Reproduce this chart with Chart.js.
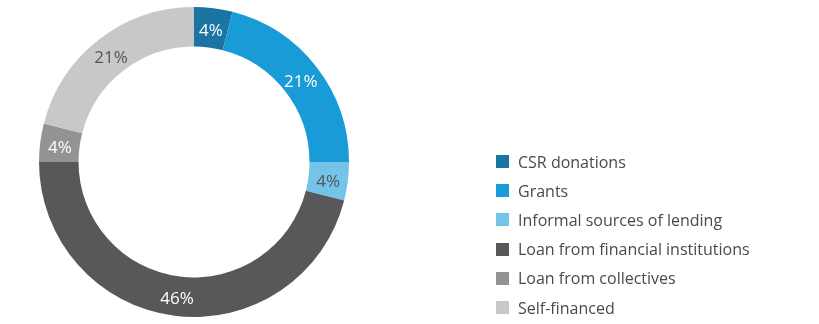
<!DOCTYPE html>
<html>
<head>
<meta charset="utf-8">
<script src="https://cdn.jsdelivr.net/npm/chart.js@4"></script>
<style>
  body { margin: 0; background: #fff; }
  #wrap { position: relative; width: 819px; height: 324px; }
  #legend { position: absolute; left: 496px; top: 147px; font-family: "Open Sans", sans-serif; font-size: 16px; color: #4a4a4a; }
  #legend div { height: 29.2px; display: flex; align-items: center; }
  #legend span.box { display: inline-block; width: 13px; height: 13px; margin-right: 9px; }
</style>
</head>
<body>
<div id="wrap">
  <canvas id="chart1" width="819" height="324"></canvas>
  <div id="legend"></div>
</div>
<script>
let labels = ['CSR donations', 'Grants', 'Informal sources of lending', 'Loan from financial institutions', 'Loan from collectives', 'Self-financed']
let shares = [4, 21, 4, 46, 4, 21]
let colors = ['#1a75a3', '#199bd8', '#74c3e9', '#58585a', '#939393', '#c8c8c8']
let labelColors = ['#ffffff', '#ffffff', '#555555', '#ffffff', '#ffffff', '#555555']

// percent labels in the middle of each slice
let sliceLabels = {
    id: 'sliceLabels',
    afterDatasetsDraw(chart) {
        let ctx = chart.ctx;
        let meta = chart.getDatasetMeta(0);
        ctx.save();
        ctx.font = '17px "Open Sans", sans-serif';
        ctx.textAlign = 'center';
        ctx.textBaseline = 'middle';
        meta.data.forEach((arc, i) => {
            let p = arc.tooltipPosition();
            ctx.fillStyle = labelColors[i];
            ctx.fillText(shares[i] + '%', p.x, p.y + 3);
        });
        ctx.restore();
    }
};

let ctx1 = document.getElementById('chart1').getContext('2d');
let chart = new Chart(ctx1, {
    type: 'doughnut',
    data: {
        labels: labels,
        datasets: [{
            data: shares,
            backgroundColor: colors,
            borderWidth: 0
        }]
    },
    options: {
        responsive: false,
        animation: false,
        cutout: '74.5%',
        layout: { padding: { left: 39, right: 470, top: 7, bottom: 7 } },
        plugins: {
            legend: { display: false },
            tooltip: { enabled: false }
        }
    },
    plugins: [sliceLabels]
});

let legend = document.getElementById('legend');
for (let i = 0; i < labels.length; i++) {
    let row = document.createElement('div');
    row.innerHTML = '<span class="box" style="background:' + colors[i] + '"></span>' + labels[i];
    legend.appendChild(row);
}
</script>
</body>
</html>
